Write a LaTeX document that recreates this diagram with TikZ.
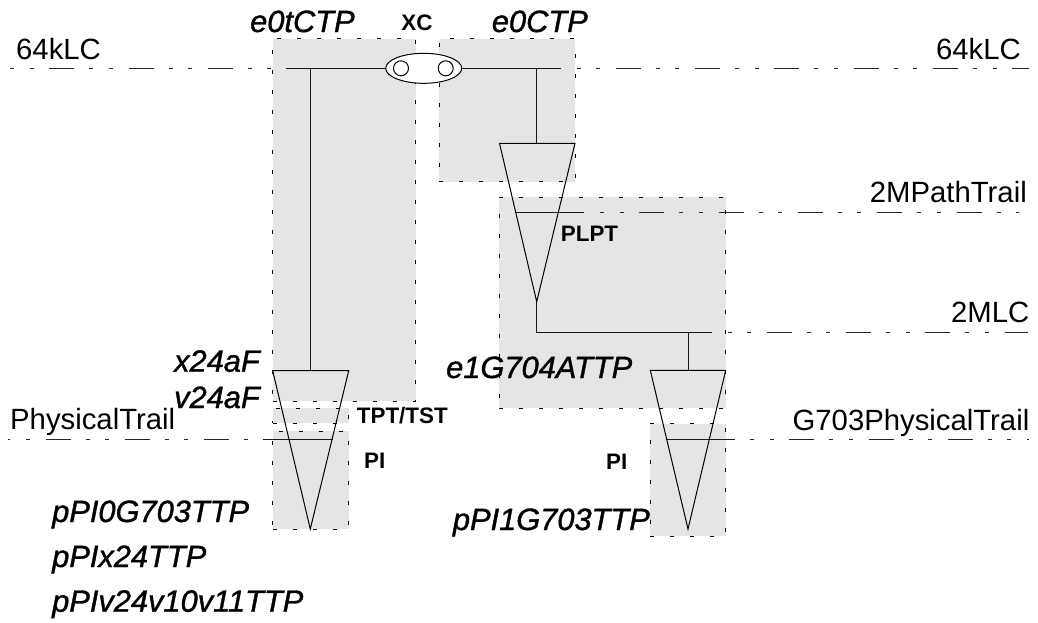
\documentclass[tikz,border=0pt]{standalone}
\usepackage{fontspec}
\setmainfont{Liberation Sans}
\newfontfamily\itfont[FakeBold=1.2]{Liberation Sans Italic}
\usetikzlibrary{shapes.geometric}
\definecolor{boxgray}{HTML}{E5E5E5}
\tikzset{
  x=1pt,y=-1pt,
  regionbox/.style={anchor=north west,inner sep=0pt,outer sep=0pt,fill=boxgray,draw=black,line width=0.8pt,dash pattern=on 4pt off 16pt},
  wire/.style={line width=1pt,black!90},
  trail/.style={line width=1pt,black!85,dash pattern=on 4pt off 15.5pt on 4pt off 15.8pt on 25pt off 15pt},
  funnel/.style={line width=1pt,black,line join=miter},
  layerlabel/.style={inner sep=0pt,font=\fontsize{29.3}{30}\selectfont},
  itlabel/.style={inner sep=0pt,font=\fontsize{30.8}{31}\selectfont\itfont},
  boldlabel/.style={inner sep=0pt,font=\fontsize{22.4}{24}\selectfont\bfseries},
}
\begin{document}
\begin{tikzpicture}
\useasboundingbox (0,0) rectangle (1038,622);
% regions
\node[regionbox,minimum width=143.2pt,minimum height=362.5pt] (boxA) at (272.5,38.5) {};
\node[regionbox,minimum width=136pt,minimum height=143.2pt] (boxB) at (439,38.5) {};
\node[regionbox,minimum width=226.4pt,minimum height=210.7pt] (boxC) at (499.3,197.3) {};
\node[regionbox,minimum width=76pt,minimum height=15pt] (boxD) at (272.7,408.3) {};
\node[regionbox,minimum width=76pt,minimum height=98pt] (boxE) at (272.7,431) {};
\node[regionbox,minimum width=75.7pt,minimum height=112.6pt] (boxF) at (650,423.7) {};
% free ends
\coordinate (lcLstart) at (10,68.3);
\coordinate (lcLend) at (285,68.3);
\coordinate (lcL) at (286,68.3);
\coordinate (lcR) at (561,68.3);
\coordinate (lcRa) at (576.5,68.3);
\coordinate (lcRb) at (1029,68.3);
\coordinate (tapL) at (310.3,68.3);
\coordinate (tapR) at (536.7,68.3);
\coordinate (t1a) at (272.7,370.7);
\coordinate (t1b) at (348.7,370.7);
\coordinate (t1top) at (310.3,370.7);
\coordinate (t1tip) at (310.3,529);
\coordinate (t2a) at (499.5,143.3);
\coordinate (t2b) at (575,143.3);
\coordinate (t2top) at (536.7,143.3);
\coordinate (t2tip) at (536.7,301.7);
\coordinate (t3a) at (650.3,370.3);
\coordinate (t3b) at (725.7,370.3);
\coordinate (t3top) at (688,370.3);
\coordinate (t3tip) at (688,529);
\coordinate (mlcCorner) at (536.7,332.7);
\coordinate (mlcTap) at (688,332.7);
\coordinate (mlcEnd) at (712,332.7);
\coordinate (mlcA) at (727.5,332.7);
\coordinate (mlcB) at (1028,332.7);
\coordinate (ptA) at (515.7,212.3);
\coordinate (ptB) at (584,212.3);
\coordinate (ptC) at (600,212.3);
\coordinate (ptD) at (1019.3,212.3);
\coordinate (phLa) at (8,439);
\coordinate (phLb) at (264,439);
\coordinate (phLc) at (263,439);
\coordinate (phLd) at (332.7,439);
\coordinate (phRa) at (666.7,439);
\coordinate (phRb) at (735,439);
\coordinate (phRc) at (750,439);
\coordinate (phRd) at (1029,439);
% cross connection
\node[draw,fill=white,ellipse,line width=1pt,minimum width=76pt,minimum height=30pt,inner sep=0pt,outer sep=0pt] (xc) at (423.7,68.3) {};
\node[draw,circle,line width=1pt,minimum size=15pt,inner sep=0pt] (xcL) at (401,68.3) {};
\node[draw,circle,line width=1pt,minimum size=15pt,inner sep=0pt] (xcR) at (445.7,68.3) {};
% layer lines
\draw[trail] (lcLstart) -- (lcLend);
\draw[trail] (lcRa) -- (lcRb);
\draw[trail] (ptC) -- (ptD);
\draw[trail] (mlcA) -- (mlcB);
\draw[trail,dash phase=1.8pt] (phLa) -- (phLb);
\draw[trail] (phRc) -- (phRd);
% wires
\draw[wire] (lcL) -- (xc.west);
\draw[wire] (xc.east) -- (lcR);
\draw[wire] (tapL) -- (t1top);
\draw[wire] (tapR) -- (t2top);
\draw[wire] (t2tip) -- (mlcCorner) -- (mlcEnd);
\draw[wire] (mlcTap) -- (t3top);
\draw[wire] (ptA) -- (ptB);
\draw[wire] (phLc) -- (phLd);
\draw[wire] (phRa) -- (phRb);
% funnels
\draw[funnel] (t1a) -- (t1b) -- (t1tip) -- cycle;
\draw[funnel] (t2a) -- (t2b) -- (t2tip) -- cycle;
\draw[funnel] (t3a) -- (t3b) -- (t3tip) -- cycle;
% layer labels
\node[layerlabel,anchor=base west] (l1) at (16,59) {64kLC};
\node[layerlabel,anchor=base east] (l2) at (1021,59) {64kLC};
\node[layerlabel,anchor=base east] (l3) at (1027,202.7) {2MPathTrail};
\node[layerlabel,anchor=base east] (l4) at (1029.5,322.7) {2MLC};
\node[layerlabel,anchor=base west] (l5) at (10,429) {PhysicalTrail};
\node[layerlabel,anchor=base east] (l6) at (1029.5,430) {G703PhysicalTrail};
% italic labels
\node[itlabel,anchor=base west] (i1) at (250,32) {e0tCTP};
\node[itlabel,anchor=base west] (i2) at (491.7,32) {e0CTP};
\node[itlabel,anchor=base east] (i3) at (260,371.7) {x24aF};
\node[itlabel,anchor=base east] (i4) at (260,408) {v24aF};
\node[itlabel,anchor=base west] (i5) at (446,378) {e1G704ATTP};
\node[itlabel,anchor=base east] (i6) at (650,530) {pPI1G703TTP};
\node[itlabel,anchor=base west] (i7) at (52,522) {pPI0G703TTP};
\node[itlabel,anchor=base west] (i8) at (52,567) {pPIx24TTP};
\node[itlabel,anchor=base west] (i9) at (52,611.7) {pPIv24v10v11TTP};
% bold labels
\node[boldlabel,anchor=base] (b1) at (417,30.7) {XC};
\node[boldlabel,anchor=base west] (b2) at (356.7,423.3) {TPT/TST};
\node[boldlabel,anchor=base west] (b3) at (364,468) {PI};
\node[boldlabel,anchor=base west] (b4) at (606,469) {PI};
\node[boldlabel,anchor=base west] (b5) at (560.7,241.7) {PLPT};
\end{tikzpicture}
\end{document}
